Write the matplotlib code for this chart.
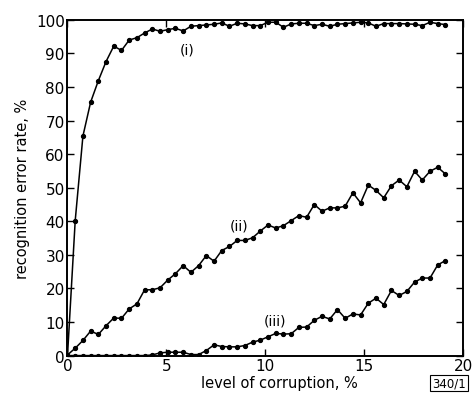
import matplotlib.pyplot as plt

# level of corruption, % (sample points)
x = [0, 0.39, 0.78, 1.17, 1.56, 1.95, 2.34, 2.73, 3.12, 3.51,
     3.9, 4.29, 4.68, 5.07, 5.46, 5.85, 6.24, 6.63, 7.02, 7.41,
     7.8, 8.19, 8.58, 8.97, 9.36, 9.75, 10.14, 10.53, 10.92, 11.31,
     11.7, 12.09, 12.48, 12.87, 13.26, 13.65, 14.04, 14.43, 14.82, 15.21,
     15.6, 15.99, 16.38, 16.77, 17.16, 17.55, 17.94, 18.33, 18.72, 19.11]

# curve (i)
err_i = [0, 40.2, 65.4, 75.5, 81.9, 87.6, 92.2, 90.9, 94.0, 94.7,
         96.1, 97.3, 96.6, 97.1, 97.5, 96.7, 98.1, 98.3, 98.5, 98.7,
         99.1, 98.1, 99.0, 98.8, 98.3, 98.3, 99.3, 99.3, 97.8, 98.8,
         99.0, 99.0, 98.3, 98.7, 98.1, 98.7, 98.9, 99.1, 99.3, 99.1,
         98.1, 98.9, 98.9, 98.9, 98.8, 98.7, 98.3, 99.3, 98.9, 98.6]

# curve (ii)
err_ii = [0.2, 2.2, 4.5, 7.3, 6.3, 8.9, 11.2, 11.1, 13.9, 15.4,
          19.6, 19.6, 20.2, 22.5, 24.4, 26.8, 24.8, 26.8, 29.8, 28.1,
          31.3, 32.5, 34.3, 34.3, 35.1, 37.1, 38.9, 38.0, 38.7, 40.2,
          41.7, 41.2, 45.0, 43.0, 44.0, 44.0, 44.5, 48.5, 45.5, 50.8,
          49.2, 47.0, 50.6, 52.3, 50.3, 54.9, 52.3, 54.9, 56.1, 54.1]

# curve (iii)
err_iii = [0, 0, 0, 0, 0, 0, 0, 0, 0, 0,
           0, 0.2, 0.8, 1.0, 1.0, 1.0, 0.3, 0.3, 1.5, 3.2,
           2.7, 2.6, 2.6, 3.0, 4.0, 4.6, 5.6, 6.6, 6.4, 6.5,
           8.4, 8.5, 10.5, 11.7, 10.9, 13.7, 11.1, 12.4, 12.1, 15.6,
           17.1, 15.2, 19.4, 17.9, 19.1, 21.9, 23.1, 23.1, 27.0, 28.3]

fig = plt.figure(figsize=(4.72, 4.02), dpi=100)
ax = fig.add_axes([0.143, 0.113, 0.838, 0.835])

for y in [err_i, err_ii, err_iii]:
    ax.plot(x, y, color='black', lw=1.1, marker='o', ms=2.8,
            markerfacecolor='black', markeredgecolor='black')

ax.set_xlim(0, 20)
ax.set_ylim(0, 100)
ax.set_xticks([0, 5, 10, 15, 20])
ax.set_yticks(range(0, 101, 10))
ax.tick_params(direction='in', length=5, width=1, top=True, right=True,
               labelsize=11, pad=2)
for s in ax.spines.values():
    s.set_linewidth(1.4)

ax.set_xlabel('level of corruption, %', fontsize=10.5)
ax.xaxis.set_label_coords(0.535, -0.058)
ax.set_ylabel('recognition error rate, %', fontsize=10.5, labelpad=4)

ax.text(5.7, 90.0, '(i)', fontsize=10)
ax.text(8.2, 37.5, '(ii)', fontsize=10)
ax.text(9.9, 9.4, '(iii)', fontsize=10)

fig.text(0.951, 0.045, '340/1', fontsize=8.5, ha='center', va='center',
         bbox=dict(boxstyle='square,pad=0.15', fc='white', ec='black', lw=0.8))

fig.savefig('out.png', dpi=100)
